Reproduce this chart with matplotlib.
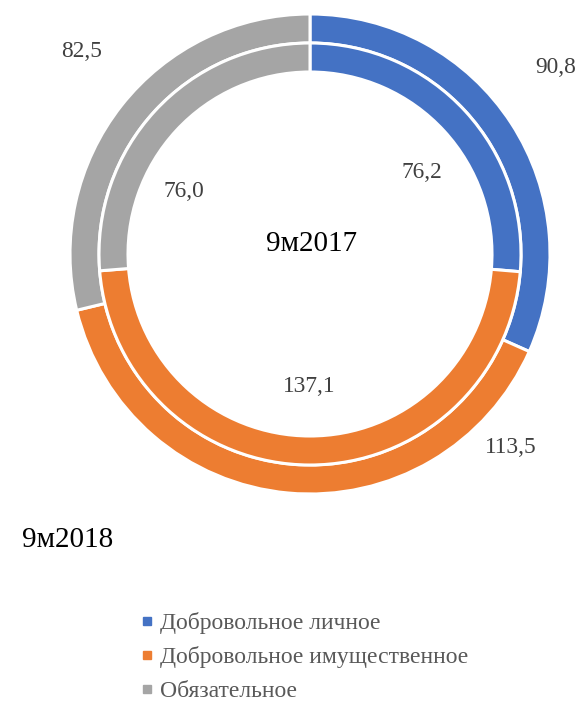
import matplotlib
matplotlib.use("Agg")
import matplotlib.pyplot as plt
from matplotlib.lines import Line2D

categories = ["Добровольное личное", "Добровольное имущественное", "Обязательное"]
values_2018 = [90.8, 113.5, 82.5]   # outer ring
values_2017 = [76.2, 137.1, 76.0]   # inner ring
colors = ["#4472C4", "#ED7D31", "#A5A5A5"]
outer_name = "9м2018"
inner_name = "9м2017"

plt.rcParams['font.family'] = ['Liberation Serif', 'DejaVu Serif']

W, H = 582, 706
fig = plt.figure(figsize=(W / 100, H / 100), dpi=100)
ax = fig.add_axes([0, 0, 1, 1])

cx, cy = 310, H - 254
wp = dict(edgecolor="white", linewidth=2.2)
ax.pie(values_2018, radius=240, center=(cx, cy), colors=colors, startangle=90,
       counterclock=False, wedgeprops=dict(width=29, **wp))
ax.pie(values_2017, radius=211, center=(cx, cy), colors=colors, startangle=90,
       counterclock=False, wedgeprops=dict(width=29, **wp))
ax.set_xlim(0, W)
ax.set_ylim(0, H)
ax.set_aspect("equal")
ax.axis("off")

def fmt(v):
    return f"{v:.1f}".replace(".", ",")

lab_col = "#404040"
outer_pos = [(556, 73), (511, 453), (82, 57)]
inner_pos = [(422, 178), (309, 392), (184, 197)]
for v, (x, y) in zip(values_2018, outer_pos):
    ax.text(x, H - y, fmt(v), ha="center", va="baseline", fontsize=16.8, color=lab_col)
for v, (x, y) in zip(values_2017, inner_pos):
    ax.text(x, H - y, fmt(v), ha="center", va="baseline", fontsize=16.8, color=lab_col)

ax.text(312, H - 251, inner_name, ha="center", va="baseline", fontsize=21, color="black")
ax.text(22, H - 547, outer_name, ha="left", va="baseline", fontsize=21, color="black")

handles = [Line2D([], [], marker="s", linestyle="none", markersize=5.5,
                  markerfacecolor=c, markeredgecolor=c) for c in colors]
leg = fig.legend(handles, categories, loc="upper left",
                 bbox_to_anchor=(141 / W, 1 - 612 / H), frameon=False,
                 fontsize=17, handlelength=0.5, handletextpad=0.3,
                 labelspacing=0.52, borderaxespad=0, borderpad=0)
for t in leg.get_texts():
    t.set_color("#595959")

fig.savefig("out.png", dpi=100)
